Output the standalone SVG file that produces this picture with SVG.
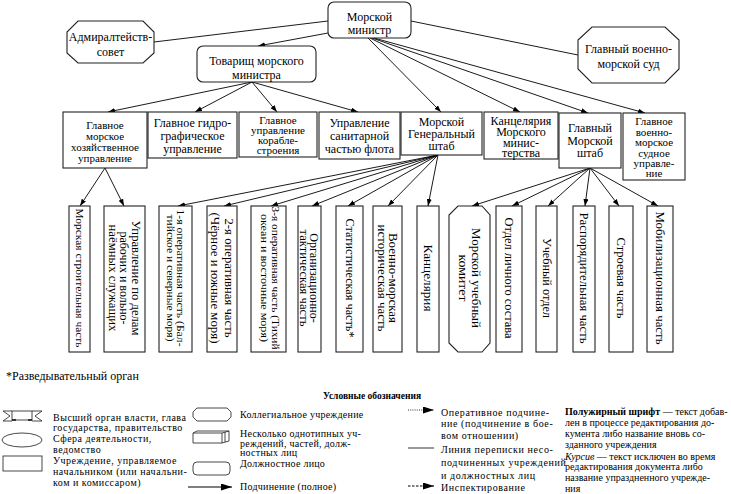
<svg xmlns="http://www.w3.org/2000/svg" width="731" height="494" viewBox="0 0 731 494">
<defs>
<marker id="ah" markerUnits="userSpaceOnUse" markerWidth="8" markerHeight="6" refX="7" refY="2.5" orient="auto"><path d="M0,0 L7,2.5 L0,5 z" fill="#000"/></marker>
<marker id="lah" markerUnits="userSpaceOnUse" markerWidth="12" markerHeight="8" refX="11" refY="3.5" orient="auto"><path d="M0,0 L11,3.5 L0,7 z" fill="#000"/></marker>
<style>
text{font-family:"Liberation Serif","Times New Roman",serif;fill:#000}
.n{fill:#fff;stroke:#222;stroke-width:1.1}
.t12{font-size:12px;text-anchor:middle}
.t11{font-size:11px;text-anchor:middle}
.t10{font-size:10.5px;text-anchor:middle}
.lg{font-size:10px}
.conn line{stroke:#000;stroke-width:0.9}
.ar{marker-end:url(#ah)}
</style>
</defs>
<rect width="731" height="494" fill="#fff"/>

<g id="connectors" class="conn">
<line x1="328" y1="21" x2="154" y2="42"/>
<line x1="411" y1="21" x2="578" y2="55"/>
<line class="ar" x1="328" y1="33" x2="258" y2="46"/>
<line class="ar" x1="368" y1="38" x2="441" y2="112"/>
<line class="ar" x1="370" y1="38" x2="520" y2="112"/>
<line class="ar" x1="372" y1="38" x2="588" y2="113"/>
<line class="ar" x1="374" y1="38" x2="645" y2="113"/>
<line class="ar" x1="252" y1="82" x2="108" y2="112"/>
<line class="ar" x1="252" y1="82" x2="195" y2="112"/>
<line class="ar" x1="252" y1="82" x2="277" y2="112"/>
<line class="ar" x1="252" y1="82" x2="358" y2="112"/>
<line class="ar" x1="105" y1="168" x2="80" y2="206"/>
<line class="ar" x1="105" y1="168" x2="124" y2="206"/>
<line class="ar" x1="438" y1="155" x2="178" y2="206"/>
<line class="ar" x1="438" y1="155" x2="224" y2="206"/>
<line class="ar" x1="438" y1="155" x2="271" y2="206"/>
<line class="ar" x1="438" y1="155" x2="312" y2="206"/>
<line class="ar" x1="438" y1="155" x2="348" y2="206"/>
<line class="ar" x1="438" y1="155" x2="388" y2="206"/>
<line class="ar" x1="438" y1="155" x2="428" y2="206"/>
<line class="ar" x1="590" y1="168" x2="472" y2="206"/>
<line class="ar" x1="590" y1="168" x2="512" y2="206"/>
<line class="ar" x1="590" y1="168" x2="548" y2="206"/>
<line class="ar" x1="590" y1="168" x2="585" y2="206"/>
<line class="ar" x1="590" y1="168" x2="619" y2="206"/>
<line class="ar" x1="590" y1="168" x2="658" y2="206"/>
</g>

<g id="minister"><rect class="n" x="328" y="2" width="83" height="36" rx="6"/>
<text class="t12"><tspan x="369.5" y="21">Морской</tspan><tspan x="369.5" y="34">министр</tspan></text></g>
<g id="admsovet"><polygon class="n" points="78,21 143,21 154,32 154,53 143,63 78,63 67,53 67,32"/>
<text class="t12"><tspan x="110.5" y="41">Адмиралтейств-</tspan><tspan x="110.5" y="56">совет</tspan></text></g>
<g id="tovarishch"><rect class="n" x="197" y="46" width="119" height="36" rx="6"/>
<text class="t12"><tspan x="256.5" y="65">Товарищ морского</tspan><tspan x="256.5" y="79">министра</tspan></text></g>
<g id="sud"><polygon class="n" points="592,27 665,27 679,40 679,69 665,83 592,83 578,69 578,40"/>
<text class="t12"><tspan x="628.5" y="53">Главный военно-</tspan><tspan x="628.5" y="68">морской суд</tspan></text></g>

<g id="hoz"><rect class="n" x="63" y="112" width="84" height="56"/>
<text class="t11"><tspan x="105" y="129">Главное</tspan><tspan x="105" y="140">морское</tspan><tspan x="105" y="150.5">хозяйственное</tspan><tspan x="105" y="161.5">управление</tspan></text></g>
<g id="gidro"><rect class="n" x="148" y="112" width="89" height="46"/>
<text class="t12"><tspan x="192.5" y="127">Главное гидро-</tspan><tspan x="192.5" y="140">графическое</tspan><tspan x="192.5" y="153">управление</tspan></text></g>
<g id="korabl"><rect class="n" x="239" y="112" width="78" height="45"/>
<text class="t11"><tspan x="278" y="124">Главное</tspan><tspan x="278" y="134">управление</tspan><tspan x="278" y="144">корабле-</tspan><tspan x="278" y="154">строения</tspan></text></g>
<g id="sanit"><rect class="n" x="319" y="112" width="81" height="47"/>
<text class="t12"><tspan x="359.5" y="127">Управление</tspan><tspan x="359.5" y="140">санитарной</tspan><tspan x="359.5" y="153">частью флота</tspan></text></g>
<g id="genshtab"><rect class="n" x="401" y="112" width="81" height="43"/>
<text class="t12"><tspan x="441.5" y="126">Морской</tspan><tspan x="441.5" y="138">Генеральный</tspan><tspan x="441.5" y="150">штаб</tspan></text></g>
<g id="kanc"><rect class="n" x="484" y="112" width="74" height="47"/>
<text class="t12"><tspan x="521" y="124.5">Канцелярия</tspan><tspan x="521" y="135.5">Морского</tspan><tspan x="521" y="146.5">минис-</tspan><tspan x="521" y="157">терства</tspan></text></g>
<g id="gmsh"><rect class="n" x="559" y="113" width="62" height="55"/>
<text class="t12"><tspan x="590" y="132">Главный</tspan><tspan x="590" y="145">Морской</tspan><tspan x="590" y="157">штаб</tspan></text></g>
<g id="sudnoe"><rect class="n" x="623" y="113" width="62" height="67"/>
<text class="t11"><tspan x="654" y="125">Главное</tspan><tspan x="654" y="135.5">военно-</tspan><tspan x="654" y="146">морское</tspan><tspan x="654" y="156.5">судное</tspan><tspan x="654" y="167">управле-</tspan><tspan x="654" y="177">ние</tspan></text></g>

<g id="v1"><rect class="n" x="69" y="206" width="21" height="146"/>
<text class="t11" transform="translate(79.5,278) rotate(90)"><tspan x="0" y="4" textLength="139" lengthAdjust="spacingAndGlyphs">Морская строительная часть</tspan></text></g>
<g id="v2"><rect class="n" x="104" y="206" width="41" height="146"/>
<text class="t12" transform="translate(124.5,278) rotate(90)"><tspan x="0" y="-7" textLength="115" lengthAdjust="spacingAndGlyphs">Управление по делам</tspan><tspan x="0" y="4.5" textLength="93" lengthAdjust="spacingAndGlyphs">рабочих и вольно-</tspan><tspan x="0" y="16" textLength="107" lengthAdjust="spacingAndGlyphs">наёмных служащих</tspan></text></g>
<g id="v3"><rect class="n" x="159" y="206" width="33" height="146"/>
<text class="t10" transform="translate(175.5,278) rotate(90)"><tspan x="0" y="-1.5" textLength="137" lengthAdjust="spacingAndGlyphs">1-я оперативная часть (Бал-</tspan><tspan x="0" y="9" textLength="127" lengthAdjust="spacingAndGlyphs">тийское и северные моря)</tspan></text></g>
<g id="v4"><rect class="n" x="207" y="206" width="30" height="146"/>
<text class="t12" transform="translate(222,278) rotate(90)"><tspan x="0" y="-3" textLength="119" lengthAdjust="spacingAndGlyphs">2-я оперативная часть</tspan><tspan x="0" y="11" textLength="131" lengthAdjust="spacingAndGlyphs">(Чёрное и южные моря)</tspan></text></g>
<g id="v5"><rect class="n" x="251" y="206" width="35" height="146"/>
<text class="t10" transform="translate(268.5,278) rotate(90)"><tspan x="0" y="-3" textLength="143" lengthAdjust="spacingAndGlyphs">3-я оперативная часть (Тихий</tspan><tspan x="0" y="8" textLength="128" lengthAdjust="spacingAndGlyphs">океан и восточные моря)</tspan></text></g>
<g id="v6"><rect class="n" x="298" y="206" width="23" height="146"/>
<text class="t12" transform="translate(309.5,278) rotate(90)"><tspan x="0" y="-0.5">Организационно-</tspan><tspan x="0" y="10" textLength="97" lengthAdjust="spacingAndGlyphs">тактическая часть</tspan></text></g>
<g id="v7"><rect class="n" x="336" y="206" width="27" height="146"/>
<text class="t12" transform="translate(349.5,278) rotate(90)"><tspan x="0" y="4" textLength="119" lengthAdjust="spacingAndGlyphs">Статистическая часть*</tspan></text></g>
<g id="v8"><rect class="n" x="373" y="206" width="29" height="146"/>
<text class="t12" transform="translate(387.5,278) rotate(90)"><tspan x="0" y="-1" textLength="90" lengthAdjust="spacingAndGlyphs">Военно-морская</tspan><tspan x="0" y="9.5" textLength="107" lengthAdjust="spacingAndGlyphs">историческая часть</tspan></text></g>
<g id="v9"><rect class="n" x="417" y="206" width="22" height="146"/>
<text class="t12" transform="translate(428,278) rotate(90)"><tspan x="0" y="4" textLength="67" lengthAdjust="spacingAndGlyphs">Канцелярия</tspan></text></g>
<g id="v10"><polygon class="n" points="458,206 482,206 490,215 490,343 482,352 458,352 449,343 449,215"/>
<text class="t12" transform="translate(469.5,278) rotate(90)"><tspan x="0" y="-2" textLength="100" lengthAdjust="spacingAndGlyphs">Морской учебный</tspan><tspan x="0" y="11" textLength="47" lengthAdjust="spacingAndGlyphs">комитет</tspan></text></g>
<g id="v11"><rect class="n" x="496" y="206" width="26" height="146"/>
<text class="t12" transform="translate(509,278) rotate(90)"><tspan x="0" y="4" textLength="121" lengthAdjust="spacingAndGlyphs">Отдел личного состава</tspan></text></g>
<g id="v12"><rect class="n" x="536" y="206" width="21" height="146"/>
<text class="t12" transform="translate(546.5,278) rotate(90)"><tspan x="0" y="4" textLength="80" lengthAdjust="spacingAndGlyphs">Учебный отдел</tspan></text></g>
<g id="v13"><rect class="n" x="573" y="206" width="22" height="146"/>
<text class="t12" transform="translate(584,278) rotate(90)"><tspan x="0" y="4" textLength="131" lengthAdjust="spacingAndGlyphs">Распорядительная часть</tspan></text></g>
<g id="v14"><rect class="n" x="609" y="206" width="24" height="146"/>
<text class="t12" transform="translate(621,278) rotate(90)"><tspan x="0" y="4" textLength="81" lengthAdjust="spacingAndGlyphs">Строевая часть</tspan></text></g>
<g id="v15"><rect class="n" x="647" y="206" width="26" height="146"/>
<text class="t12" transform="translate(660,278) rotate(90)"><tspan x="0" y="4" textLength="133" lengthAdjust="spacingAndGlyphs">Мобилизационная часть</tspan></text></g>

<text x="6" y="380" style="font-size:12px">*Разведывательный орган</text>

<g id="legend">
<text x="372" y="399" style="font-size:9.5px;font-weight:bold;text-anchor:middle">Условные обозначения</text>
<g fill="#fff" stroke="#333" stroke-width="0.9">
<path d="M3,411 L10,416 L3,421 M3,411 H12 M3,421 H12 M42,411 L35,416 L42,421 M32,411 H42 M32,421 H42"/>
<rect x="12" y="411" width="20" height="9"/>
<ellipse cx="22" cy="440" rx="20" ry="7"/>
<rect x="3" y="456" width="39" height="15"/>
<polygon points="197,408 227,408 231,412 231,417 227,421 197,421 193,417 193,412"/>
<path d="M193,433 H222 V443 H193 Z M193,433 L197,431 H229 V441 L222,443 M222,433 L229,431 M225,432 V442"/>
<rect x="193" y="462" width="37" height="13" rx="4"/>
</g>
<rect x="12" y="419" width="4" height="2" fill="#333"/><rect x="28" y="419" width="4" height="2" fill="#333"/>
<line x1="188" y1="487" x2="232" y2="487" stroke="#000" stroke-width="1.2" marker-end="url(#lah)"/>
<line x1="408" y1="410" x2="434" y2="410" stroke="#000" stroke-width="0.8" stroke-dasharray="1,1.2" marker-end="url(#lah)"/>
<line x1="408" y1="448" x2="434" y2="448" stroke="#999" stroke-width="2"/>
<line x1="408" y1="486" x2="434" y2="486" stroke="#000" stroke-width="1" stroke-dasharray="2.5,1.5" marker-end="url(#lah)"/>
<text class="lg" style="letter-spacing:0.5px"><tspan x="53" y="421">Высший орган власти, глава</tspan><tspan x="53" y="431">государства, правительство</tspan><tspan x="53" y="442">Сфера деятельности,</tspan><tspan x="53" y="453">ведомство</tspan><tspan x="53" y="464">Учреждение, управляемое</tspan><tspan x="53" y="475">начальником (или начальни-</tspan><tspan x="53" y="486">ком и комиссаром)</tspan></text>
<text class="lg" style="letter-spacing:0.25px"><tspan x="240" y="418">Коллегиальное учреждение</tspan><tspan x="240" y="437">Несколько однотипных уч-</tspan><tspan x="240" y="447">реждений, частей, долж-</tspan><tspan x="240" y="456">ностных лиц</tspan><tspan x="240" y="467">Должностное лицо</tspan><tspan x="240" y="490">Подчинение (полное)</tspan></text>
<text class="lg" style="letter-spacing:0.6px"><tspan x="441" y="416">Оперативное подчине-</tspan><tspan x="441" y="427">ние (подчинение в бое-</tspan><tspan x="441" y="439">вом отношении)</tspan><tspan x="441" y="453">Линия переписки несо-</tspan><tspan x="441" y="466">подчиненных учреждений</tspan><tspan x="441" y="479">и должностных лиц</tspan><tspan x="441" y="491">Инспектирование</tspan></text>
<text class="lg"><tspan x="565" y="415"><tspan font-weight="bold">Полужирный шрифт</tspan> — текст добав-</tspan><tspan x="565" y="426">лен в процессе редактирования до-</tspan><tspan x="565" y="437">кумента либо название вновь со-</tspan><tspan x="565" y="448">зданного учреждения</tspan><tspan x="565" y="460"><tspan font-style="italic">Курсив</tspan> — текст исключен во время</tspan><tspan x="565" y="470">редактирования документа либо</tspan><tspan x="565" y="481">название упраздненного учрежде-</tspan><tspan x="565" y="492">ния</tspan></text>
</g>
</svg>
